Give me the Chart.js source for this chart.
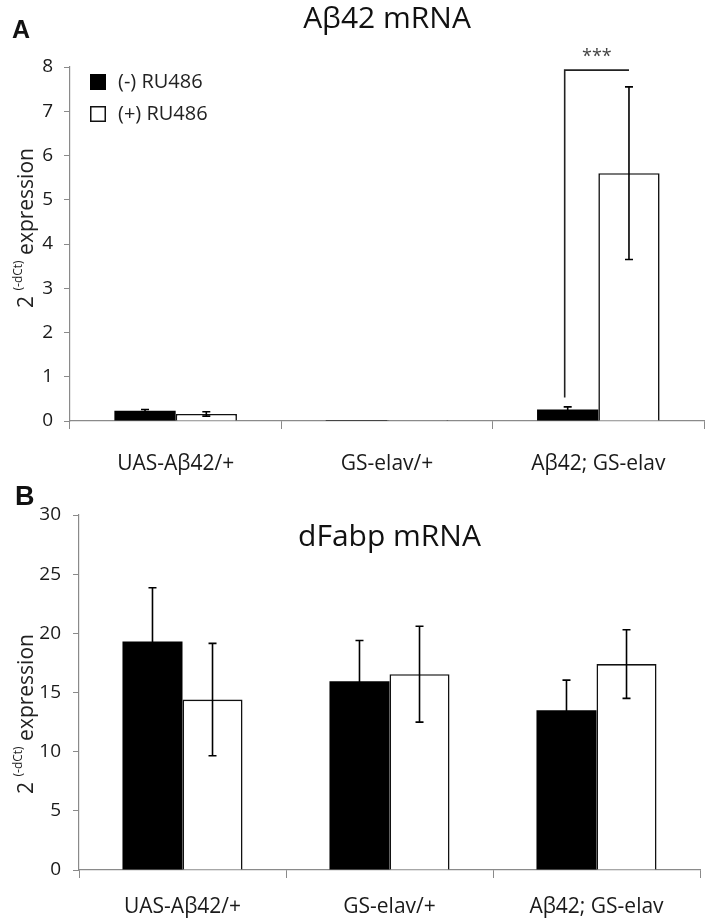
<!DOCTYPE html>
<html><head><meta charset="utf-8">
<script src="https://cdn.jsdelivr.net/npm/chart.js@4"></script>
<style>
html,body{margin:0;padding:0;background:#fff;}
#wrap{position:relative;width:714px;height:924px;overflow:hidden;}
.box{position:absolute;left:0;width:714px;}
</style></head><body>
<div id="wrap">
<div class="box" style="top:0;height:480px"><canvas id="c1" width="714" height="480"></canvas></div>
<div class="box" style="top:480px;height:444px"><canvas id="c2" width="714" height="444"></canvas></div>
</div>
<script>
// ---- data ----
const categories = ['UAS-A\u03b242/+', 'GS-elav/+', 'A\u03b242; GS-elav'];
const seriesLabels = ['(-) RU486', '(+) RU486'];

const abetaMinus    = [0.23, 0.02, 0.26];
const abetaMinusErr = [0.03, 0.00, 0.06];
const abetaPlus     = [0.16, 0.02, 5.60];
const abetaPlusErr  = [0.05, 0.00, 1.95];

const dfabpMinus    = [19.3, 15.95, 13.5];
const dfabpMinusErr = [4.55, 3.45, 2.55];
const dfabpPlus     = [14.4, 16.55, 17.4];
const dfabpPlusErr  = [4.75, 4.05, 2.9];

const abetaAxis = {min: 0, max: 8, step: 1};
const dfabpAxis = {min: 0, max: 30, step: 5};

// significance bracket (panel A, third group)
const sigGroup = 2;
const sigLow = 0.53, sigHigh = 7.93;
const sigText = '***';

const FONT = '"Open Sans", "DejaVu Sans", sans-serif';

const errorBars = {
  id: 'errorBars',
  afterDatasetsDraw(chart) {
    const ctx = chart.ctx, y = chart.scales.y;
    chart.data.datasets.forEach((ds, i) => {
      const meta = chart.getDatasetMeta(i);
      meta.data.forEach((bar, j) => {
        const e = ds.errors[j];
        if (!e) return;
        const v = ds.data[j];
        const t = y.getPixelForValue(v + e), b = y.getPixelForValue(v - e);
        ctx.save();
        ctx.strokeStyle = '#000'; ctx.lineWidth = 1.6;
        ctx.beginPath();
        ctx.moveTo(bar.x, t); ctx.lineTo(bar.x, b);
        ctx.moveTo(bar.x - 4, t); ctx.lineTo(bar.x + 4, t);
        ctx.moveTo(bar.x - 4, b); ctx.lineTo(bar.x + 4, b);
        ctx.stroke();
        ctx.restore();
      });
    });
  }
};

const decorations = {
  id: 'decorations',
  afterDraw(chart, args, o) {
    const ctx = chart.ctx, area = chart.chartArea;
    ctx.save();
    // title
    ctx.fillStyle = '#111';
    ctx.font = '30px ' + FONT;
    ctx.textAlign = 'center'; ctx.textBaseline = 'alphabetic';
    ctx.fillText(o.title, (area.left + area.right) / 2, o.titleBaseline);
    // panel letter
    ctx.font = 'bold ' + o.letterSize + 'px "Liberation Sans", Arial, sans-serif';
    ctx.textAlign = 'left';
    ctx.fillText(o.letter, o.letterX, o.letterBaseline);
    // y title with superscript
    ctx.save();
    ctx.translate(33, o.yTitleCenter);
    ctx.rotate(-Math.PI / 2);
    const big = '21px ' + FONT, small = '12px ' + FONT;
    ctx.font = big; const w1 = ctx.measureText('2 ').width;
    ctx.font = small; const w2 = ctx.measureText('(-dCt)').width;
    ctx.font = big; const w3 = ctx.measureText(' expression').width;
    let x = -(w1 + w2 + w3) / 2;
    ctx.fillStyle = '#222'; ctx.textAlign = 'left';
    ctx.font = big; ctx.fillText('2 ', x, 0); x += w1;
    ctx.font = small; ctx.fillText('(-dCt)', x, -11); x += w2;
    ctx.font = big; ctx.fillText(' expression', x, 0);
    ctx.restore();
    // legend
    if (o.legend) {
      ctx.font = '20px ' + FONT;
      ctx.textBaseline = 'middle'; ctx.textAlign = 'left';
      ctx.fillStyle = '#000';
      ctx.fillRect(90, 74, 16, 16);
      ctx.fillStyle = '#fff';
      ctx.strokeStyle = '#111'; ctx.lineWidth = 1.5;
      ctx.fillRect(90.75, 106.75, 14.5, 14.5);
      ctx.strokeRect(90.75, 106.75, 14.5, 14.5);
      ctx.fillStyle = '#222';
      ctx.fillText(chart.data.datasets[0].label, 118, 82);
      ctx.fillText(chart.data.datasets[1].label, 118, 114);
    }
    // significance bracket
    if (o.bracket) {
      const y = chart.scales.y;
      const xa = chart.getDatasetMeta(0).data[sigGroup].x - 3;
      const xb = chart.getDatasetMeta(1).data[sigGroup].x;
      const ya = y.getPixelForValue(sigLow), yb = y.getPixelForValue(sigHigh);
      ctx.strokeStyle = '#222'; ctx.lineWidth = 1.6;
      ctx.beginPath();
      ctx.moveTo(xa, ya); ctx.lineTo(xa, yb); ctx.lineTo(xb, yb);
      ctx.stroke();
      ctx.fillStyle = '#444';
      ctx.font = '18px ' + FONT;
      ctx.textAlign = 'center'; ctx.textBaseline = 'alphabetic';
      ctx.fillText(sigText, (xa + xb) / 2, yb - 8);
    }
    ctx.restore();
  }
};

function makeChart(id, minus, minusErr, plus, plusErr, axis, cfg) {
  return new Chart(document.getElementById(id), {
    type: 'bar',
    data: {
      labels: categories,
      datasets: [
        {label: seriesLabels[0], data: minus, errors: minusErr,
         backgroundColor: '#000000', borderColor: '#000000', borderWidth: 0},
        {label: seriesLabels[1], data: plus, errors: plusErr,
         backgroundColor: '#ffffff', borderColor: '#111111', borderWidth: 1.6}
      ]
    },
    options: {
      responsive: false,
      animation: false,
      layout: {padding: {left: 0, right: cfg.padRight, top: cfg.padTop, bottom: 0}},
      datasets: {bar: {barPercentage: 1, categoryPercentage: 0.58, minBarLength: 1}},
      plugins: {
        legend: {display: false},
        tooltip: {enabled: false},
        decorations: cfg.deco
      },
      scales: {
        x: {
          grid: {drawOnChartArea: false, drawTicks: true, tickLength: 8, color: '#8a8a8a', offset: true},
          border: {color: '#8a8a8a', width: 1.2},
          ticks: {font: {family: FONT, size: 21}, color: '#1a1a1a', padding: cfg.xPad, maxRotation: 0},
          afterFit(s) { s.height = cfg.xHeight; }
        },
        y: {
          min: axis.min, max: axis.max,
          grid: {drawOnChartArea: false, drawTicks: true, tickLength: 6, color: '#8a8a8a'},
          border: {color: '#8a8a8a', width: 1.2},
          ticks: {stepSize: axis.step, font: {family: FONT, size: 19}, color: '#1a1a1a', padding: cfg.yPad},
          afterFit(s) { s.width = cfg.yWidth; }
        }
      }
    },
    plugins: [errorBars, decorations]
  });
}

makeChart('c1', abetaMinus, abetaMinusErr, abetaPlus, abetaPlusErr, abetaAxis, {
  padRight: 10, padTop: 67, xHeight: 59, yWidth: 70, xPad: 22, yPad: 11,
  deco: {title: 'A\u03b242 mRNA', titleBaseline: 28, letter: 'A', letterX: 12, letterBaseline: 38, letterSize: 25,
         yTitleCenter: 228, legend: true, bracket: true}
});
makeChart('c2', dfabpMinus, dfabpMinusErr, dfabpPlus, dfabpPlusErr, dfabpAxis, {
  padRight: 14, padTop: 35, xHeight: 54, yWidth: 79, xPad: 16, yPad: 12,
  deco: {title: 'dFabp mRNA', titleBaseline: 66, letter: 'B', letterX: 15, letterBaseline: 25, letterSize: 27,
         yTitleCenter: 234, legend: false, bracket: false}
});
</script>
</body></html>
